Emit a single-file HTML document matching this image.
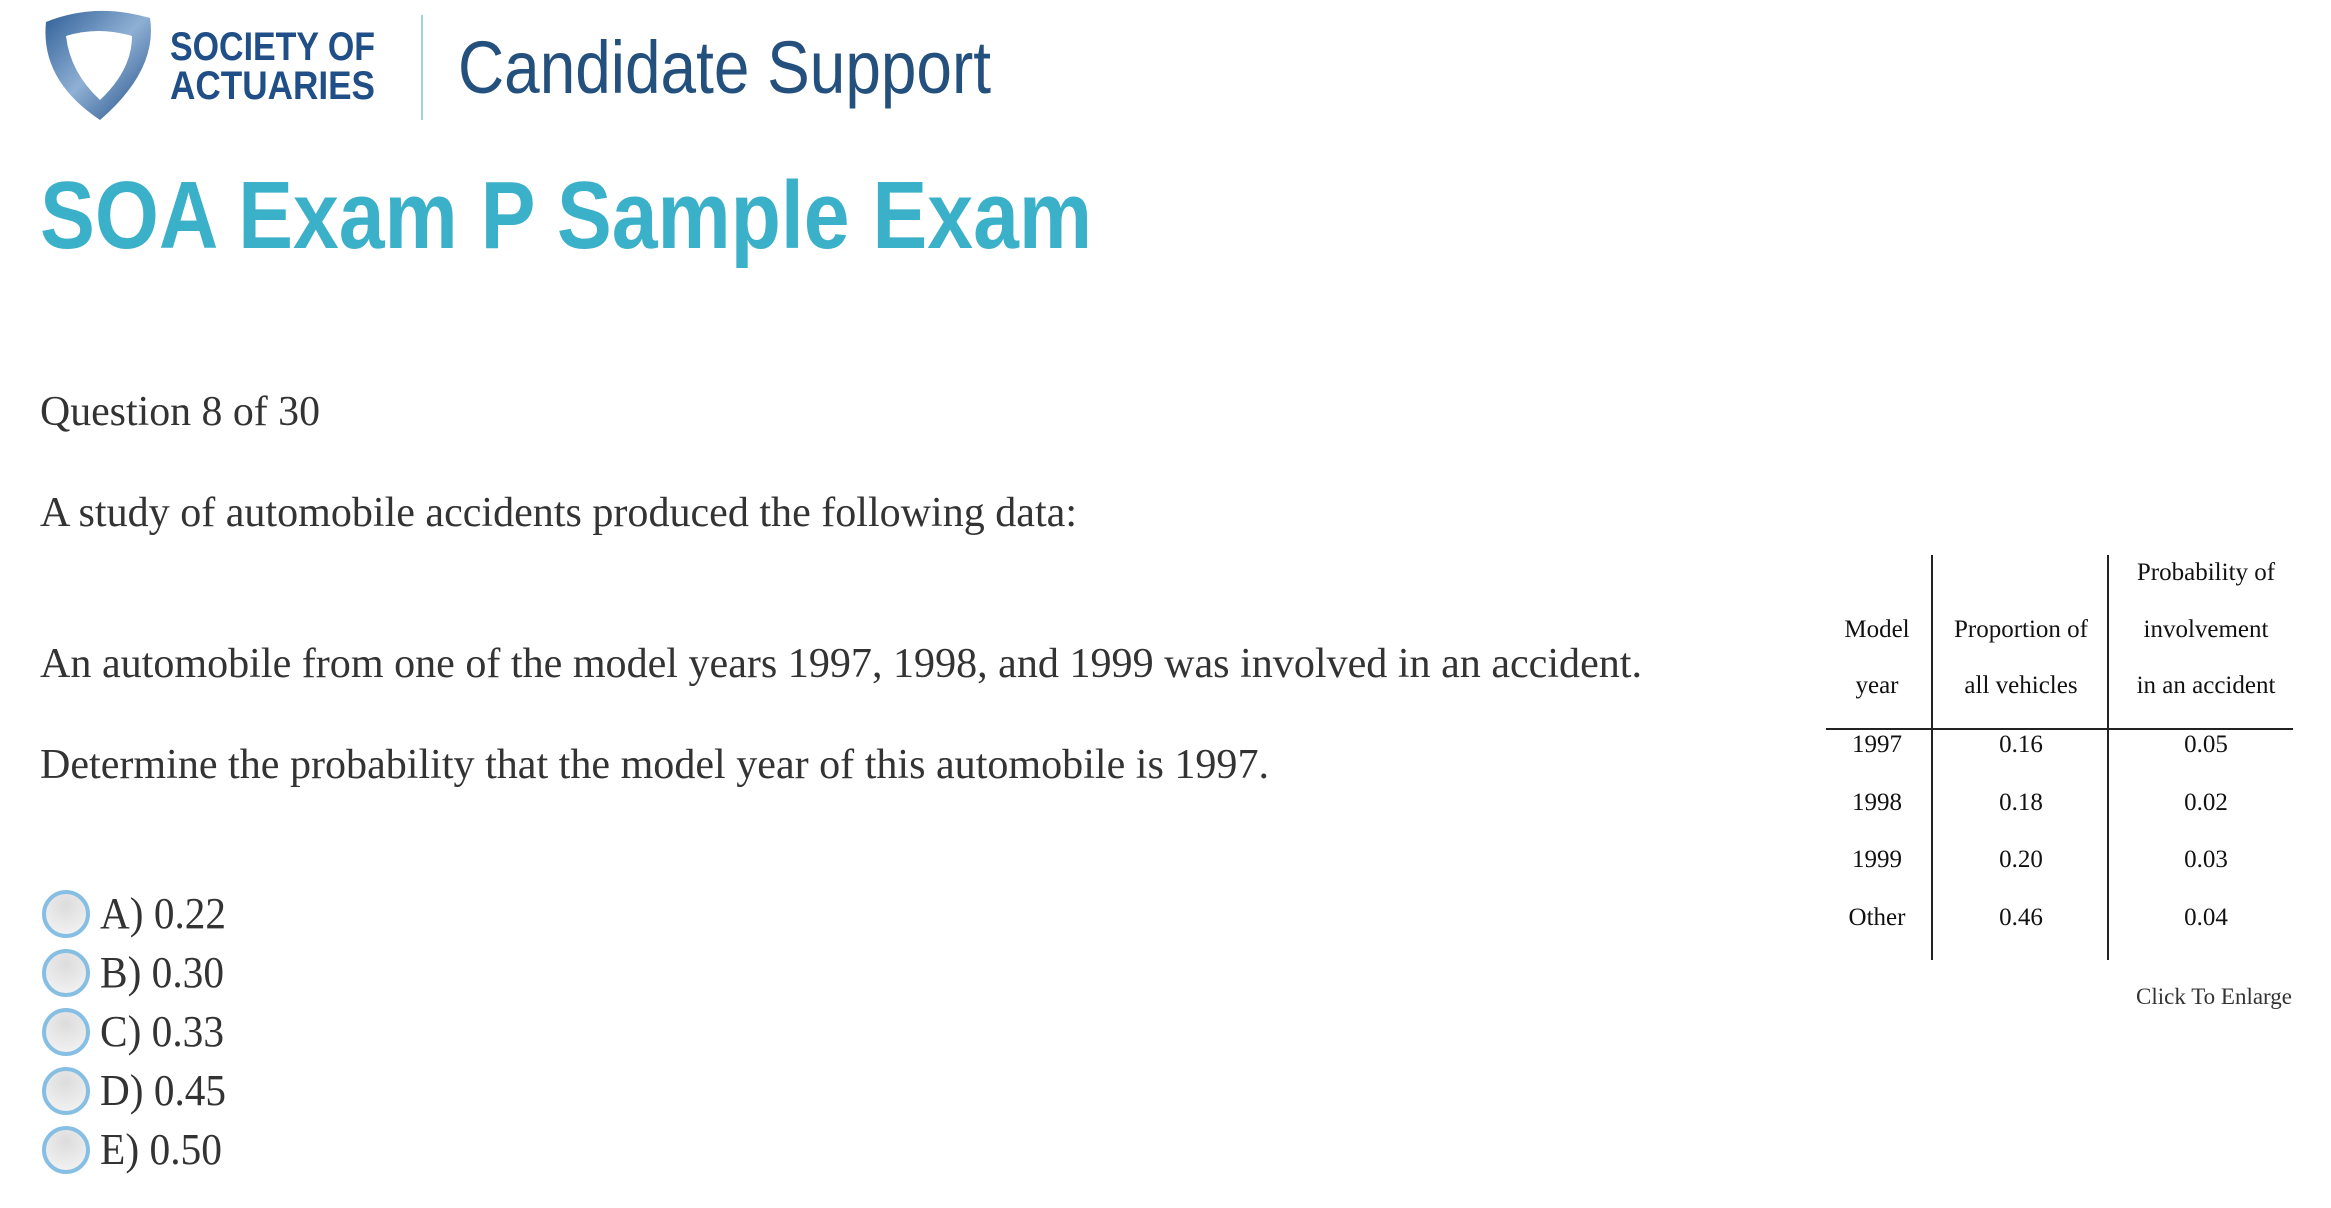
<!DOCTYPE html>
<html><head><meta charset="utf-8"><style>
html,body{margin:0;padding:0;background:#fff;width:2331px;height:1208px;overflow:hidden}
svg{display:block}
.serif{font-family:"Liberation Serif",serif;fill:#333}
.tbl{font-family:"Liberation Serif",serif;fill:#111;font-size:25px}
</style></head><body>
<svg width="2331" height="1208" viewBox="0 0 2331 1208">
<defs>
<linearGradient id="sg" x1="0" y1="0" x2="1" y2="1">
<stop offset="0" stop-color="#2f5f98"/><stop offset="0.5" stop-color="#8fb0d4"/><stop offset="1" stop-color="#1d4c86"/>
</linearGradient>
<radialGradient id="rg" cx="0.5" cy="0.3" r="0.7"><stop offset="0" stop-color="#dcdcdc"/><stop offset="1" stop-color="#f2f2f2"/></radialGradient>
</defs>
<g>
<path d="M46,22 Q95,2 150,18 Q158,70 100,120 Q40,80 46,22 Z" fill="url(#sg)"/>
<path d="M66,36 Q98,26 132,36 Q132,70 100,100 Q70,72 66,36 Z" fill="#fff"/>
<text x="170" y="60" font-family="Liberation Sans,sans-serif" font-weight="bold" font-size="40" fill="#1f4f86" textLength="205" lengthAdjust="spacingAndGlyphs">SOCIETY OF</text>
<text x="170" y="99" font-family="Liberation Sans,sans-serif" font-weight="bold" font-size="40" fill="#1f4f86" textLength="205" lengthAdjust="spacingAndGlyphs">ACTUARIES</text>
</g>
<rect x="421" y="15" width="2" height="105" fill="#9fd3e3"/>
<text x="458" y="93" font-family="Liberation Sans,sans-serif" font-size="74" fill="#24507e" textLength="533" lengthAdjust="spacingAndGlyphs">Candidate Support</text>
<text x="40" y="248" font-family="Liberation Sans,sans-serif" font-weight="bold" font-size="96" fill="#3bb0c9" textLength="1052" lengthAdjust="spacingAndGlyphs">SOA Exam P Sample Exam</text>

<text class="serif" x="40" y="425" font-size="42" textLength="280" lengthAdjust="spacingAndGlyphs">Question 8 of 30</text>
<text class="serif" x="40" y="526" font-size="42" textLength="1037" lengthAdjust="spacingAndGlyphs">A study of automobile accidents produced the following data:</text>
<text class="serif" x="40" y="677" font-size="42" textLength="1602" lengthAdjust="spacingAndGlyphs">An automobile from one of the model years 1997, 1998, and 1999 was involved in an accident.</text>
<text class="serif" x="40" y="778" font-size="42" textLength="1229" lengthAdjust="spacingAndGlyphs">Determine the probability that the model year of this automobile is 1997.</text>

<g><circle cx="66" cy="914" r="22" fill="url(#rg)" stroke="#86bfe3" stroke-width="4"/><text class="serif" x="100" y="928" font-size="44" textLength="126" lengthAdjust="spacingAndGlyphs">A) 0.22</text></g>
<g><circle cx="66" cy="973" r="22" fill="url(#rg)" stroke="#86bfe3" stroke-width="4"/><text class="serif" x="100" y="987" font-size="44" textLength="124" lengthAdjust="spacingAndGlyphs">B) 0.30</text></g>
<g><circle cx="66" cy="1032" r="22" fill="url(#rg)" stroke="#86bfe3" stroke-width="4"/><text class="serif" x="100" y="1046" font-size="44" textLength="124" lengthAdjust="spacingAndGlyphs">C) 0.33</text></g>
<g><circle cx="66" cy="1091" r="22" fill="url(#rg)" stroke="#86bfe3" stroke-width="4"/><text class="serif" x="100" y="1105" font-size="44" textLength="126" lengthAdjust="spacingAndGlyphs">D) 0.45</text></g>
<g><circle cx="66" cy="1150" r="22" fill="url(#rg)" stroke="#86bfe3" stroke-width="4"/><text class="serif" x="100" y="1164" font-size="44" textLength="122" lengthAdjust="spacingAndGlyphs">E) 0.50</text></g>

<g>
<rect x="1931" y="555" width="2" height="405" fill="#222"/>
<rect x="2107" y="555" width="2" height="405" fill="#222"/>
<rect x="1826" y="728" width="467" height="2" fill="#222"/>
<g class="tbl" text-anchor="middle">
<text x="2206" y="580">Probability of</text>
<text x="1877" y="637">Model</text><text x="2021" y="637">Proportion of</text><text x="2206" y="637">involvement</text>
<text x="1877" y="693">year</text><text x="2021" y="693">all vehicles</text><text x="2206" y="693">in an accident</text>
</g>
<g class="tbl" text-anchor="middle">
<text x="1877" y="752">1997</text><text x="2021" y="752">0.16</text><text x="2206" y="752">0.05</text>
<text x="1877" y="810">1998</text><text x="2021" y="810">0.18</text><text x="2206" y="810">0.02</text>
<text x="1877" y="867">1999</text><text x="2021" y="867">0.20</text><text x="2206" y="867">0.03</text>
<text x="1877" y="925">Other</text><text x="2021" y="925">0.46</text><text x="2206" y="925">0.04</text>
</g>
</g>
<text x="2292" y="1004" text-anchor="end" font-family="Liberation Serif,serif" font-size="23" fill="#333">Click To Enlarge</text>
</svg>
</body></html>
